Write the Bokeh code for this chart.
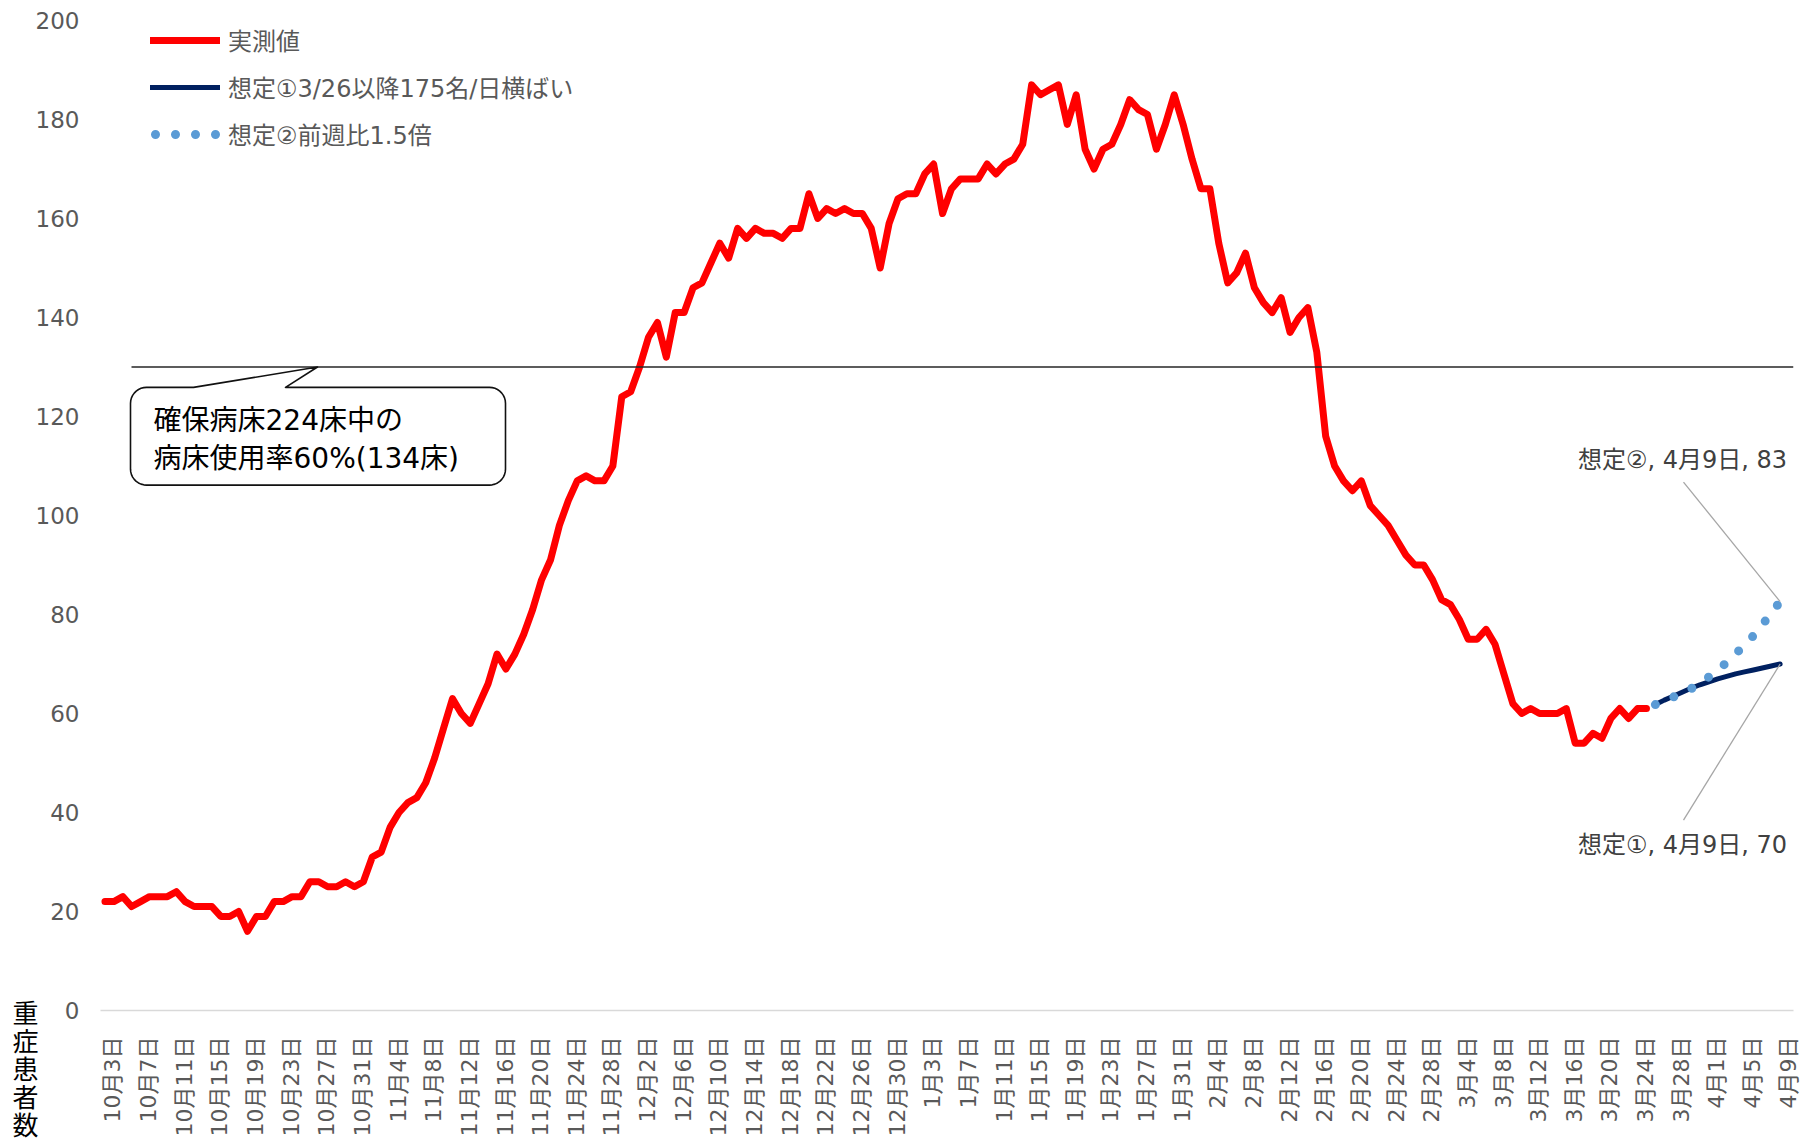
import math
import numpy as np
from bokeh.plotting import figure
from bokeh.models import FixedTicker, Label, Legend, LegendItem, Range1d
from bokeh.embed import file_html
from bokeh.resources import INLINE

# ---------------- data ----------------
tick_labels = ["10月3日", "10月7日", "10月11日", "10月15日", "10月19日", "10月23日", "10月27日", "10月31日",
               "11月4日", "11月8日", "11月12日", "11月16日", "11月20日", "11月24日", "11月28日",
               "12月2日", "12月6日", "12月10日", "12月14日", "12月18日", "12月22日", "12月26日", "12月30日",
               "1月3日", "1月7日", "1月11日", "1月15日", "1月19日", "1月23日", "1月27日", "1月31日",
               "2月4日", "2月8日", "2月12日", "2月16日", "2月20日", "2月24日", "2月28日",
               "3月4日", "3月8日", "3月12日", "3月16日", "3月20日", "3月24日", "3月28日",
               "4月1日", "4月5日", "4月9日"]
tick_step_days = 4
n_days = 189  # 10/3 .. 4/9

actual = [22, 22, 23, 21, 22, 23, 23, 23, 24, 22,
          21, 21, 21, 19, 19, 20, 16, 19, 19, 22,
          22, 23, 23, 26, 26, 25, 25, 26, 25, 26,
          31, 32, 37, 40, 42, 43, 46, 51, 57, 63,
          60, 58, 62, 66, 72, 69, 72, 76, 81, 87,
          91, 98, 103, 107, 108, 107, 107, 110, 124, 125,
          130, 136, 139, 132, 141, 141, 146, 147, 151, 155,
          152, 158, 156, 158, 157, 157, 156, 158, 158, 165,
          160, 162, 161, 162, 161, 161, 158, 150, 159, 164,
          165, 165, 169, 171, 161, 166, 168, 168, 168, 171,
          169, 171, 172, 175, 187, 185, 186, 187, 179, 185,
          174, 170, 174, 175, 179, 184, 182, 181, 174, 179,
          185, 179, 172, 166, 166, 155, 147, 149, 153, 146,
          143, 141, 144, 137, 140, 142, 133, 116, 110, 107,
          105, 107, 102, 100, 98, 95, 92, 90, 90, 87,
          83, 82, 79, 75, 75, 77, 74, 68, 62, 60,
          61, 60, 60, 60, 61, 54, 54, 56, 55, 59,
          61, 59, 61, 61]

scenario_start = 174  # 3/26
scenario1 = [61.8, 62.7, 63.5, 64.3, 65.1, 65.8, 66.4, 67.0, 67.5, 68.0, 68.4, 68.8, 69.2, 69.6, 70.0]
scenario2 = [61.8, 62.6, 63.3, 64.2, 65.0, 66.1, 67.4, 68.8, 70.3, 72.0, 73.9, 75.7, 77.9, 80.3, 82.6]

ref_value = 130
series_names = ["実測値", "想定①3/26以降175名/日横ばい", "想定②前週比1.5倍"]
callout_lines = ["確保病床224床中の", "病床使用率60%(134床)"]
y_title = "重症患者数"

# ---------------- layout ----------------
W, H = 1816, 1139
FL, FT, FW, FH = 100, 20, 1693, 993
X0, X1 = -0.5, n_days + 0.5
Y0, Y1 = 0, 200
sx = FW / (X1 - X0)
sy = FH / (Y1 - Y0)
LABEL_SHIFT = 0.9  # rotated tick labels sit a little right of their day


def px2x(px):  # canvas px -> data x
    return X0 + (px - FL) / sx


def py2y(py):  # canvas px -> data y
    return Y0 + (FT + FH - py) / sy


FONT = "'DejaVu Sans', 'Noto Sans CJK JP'"
GRAY = "#595959"

p = figure(width=W, height=H, x_range=Range1d(X0, X1), y_range=Range1d(Y0, Y1),
           output_backend="svg", toolbar_location=None,
           min_border_left=FL, min_border_right=W - FL - FW,
           min_border_top=FT, min_border_bottom=H - FT - FH)
p.outline_line_color = None
p.xgrid.grid_line_color = None
p.ygrid.grid_line_color = None
p.background_fill_color = "white"

# y axis
ya = p.yaxis[0]
ya.ticker = FixedTicker(ticks=list(range(0, 201, 20)))
ya.axis_line_color = None
ya.major_tick_line_color = None
ya.minor_tick_line_color = None
ya.major_label_text_font = FONT
ya.major_label_text_font_size = "23px"
ya.major_label_text_color = GRAY
ya.major_label_standoff = 15

# x axis
xa = p.xaxis[0]
tick_days = list(range(0, n_days, tick_step_days))
tick_pos = [d + LABEL_SHIFT for d in tick_days]
xa.ticker = FixedTicker(ticks=tick_pos)
xa.major_label_overrides = {t: lab for t, lab in zip(tick_pos, tick_labels)}
xa.major_label_orientation = math.pi / 2
xa.major_label_text_font = FONT
xa.major_label_text_font_size = "22px"
xa.major_label_text_color = GRAY
xa.major_label_standoff = 20
xa.axis_line_color = "#d9d9d9"
xa.axis_line_width = 1.5
xa.major_tick_line_color = None
xa.minor_tick_line_color = None

# series
ax = list(range(len(actual)))
sxs = list(range(scenario_start, scenario_start + len(scenario1)))
r_act = p.line(ax, actual, line_color="#ff0000", line_width=7, line_join="round", line_cap="round")

# reference line (drawn over the red line)
p.line([px2x(131), X1], [ref_value, ref_value], line_color="#262626", line_width=1.3)

r_s1 = p.line(sxs, scenario1, line_color="#002060", line_width=5, line_join="round", line_cap="round")
DOT_STYLE = dict(line_color="#5b9bd5", line_width=9, line_dash="0 20", line_cap="round")
r_s2 = p.line(sxs, scenario2, **DOT_STYLE)
# legend swatch for the dotted series (dots shifted so none is clipped at the swatch edge);
# it draws nothing in the plot itself
r_s2_leg = p.line([float("nan")], [float("nan")], line_dash_offset=15, **DOT_STYLE)

# callout box with pointer to the reference line
L, R, T, B, rad = 130, 505, 388, 486, 16
bl, br = 193, 285
tip_x = 317
xs_d, ys_d = [px2x(bl)], [py2y(T)]
xs_d.append(px2x(tip_x)); ys_d.append(ref_value)
xs_d.append(px2x(br)); ys_d.append(py2y(T))


def arc(cx, cy, a0, a1, n=10):
    for a in np.linspace(math.radians(a0), math.radians(a1), n):
        xs_d.append(px2x(cx + rad * math.cos(a)))
        ys_d.append(py2y(cy + rad * math.sin(a)))


arc(R - rad, T + rad, -90, 0)
arc(R - rad, B - rad, 0, 90)
arc(L + rad, B - rad, 90, 180)
arc(L + rad, T + rad, 180, 270)
p.patch(xs_d, ys_d, fill_color="white", line_color="#111111", line_width=1.6, line_join="round")

p.add_layout(Label(x=px2x(153), y=py2y(421), text=callout_lines[0], text_font=FONT,
                   text_font_size="28px", text_color="black", text_baseline="middle", text_align="left"))
p.add_layout(Label(x=px2x(153), y=py2y(459), text=callout_lines[1], text_font=FONT,
                   text_font_size="28px", text_color="black", text_baseline="middle", text_align="left"))

# data labels at the end of the scenarios
last_x = sxs[-1]
p.segment(x0=[px2x(1683), px2x(1683)], y0=[py2y(483), py2y(822)],
          x1=[last_x, last_x], y1=[scenario2[-1], scenario1[-1]],
          line_color="#a6a6a6", line_width=1.3)
p.add_layout(Label(x=px2x(1682), y=py2y(461),
                   text=f"想定②, {tick_labels[-1]}, {round(scenario2[-1])}", text_font=FONT,
                   text_font_size="24px", text_color="#404040", text_baseline="middle", text_align="center"))
p.add_layout(Label(x=px2x(1682), y=py2y(847),
                   text=f"想定①, {tick_labels[-1]}, {round(scenario1[-1])}", text_font=FONT,
                   text_font_size="24px", text_color="#404040", text_baseline="middle", text_align="center"))

# y axis title: stacked characters, placed in the left side panel (outside the frame)
p.add_layout(Label(x=6, y=12, x_units="screen", y_units="screen",
                   text="\n".join(y_title), text_font=FONT, text_font_size="26px",
                   text_color="black", text_baseline="top", text_align="left",
                   text_line_height=0.94), "left")

# legend
legend = Legend(items=[LegendItem(label=series_names[0], renderers=[r_act]),
                       LegendItem(label=series_names[1], renderers=[r_s1]),
                       LegendItem(label=series_names[2], renderers=[r_s2_leg])],
                location=(150 - FL, (FT + FH) - 156.5),
                glyph_width=70, glyph_height=40, label_height=40, spacing=7,
                padding=0, margin=0, label_standoff=8,
                label_text_font=FONT, label_text_font_size="24px", label_text_color=GRAY,
                border_line_color=None, background_fill_alpha=0)
p.add_layout(legend)

open("out.html", "w").write(file_html(p, INLINE))
